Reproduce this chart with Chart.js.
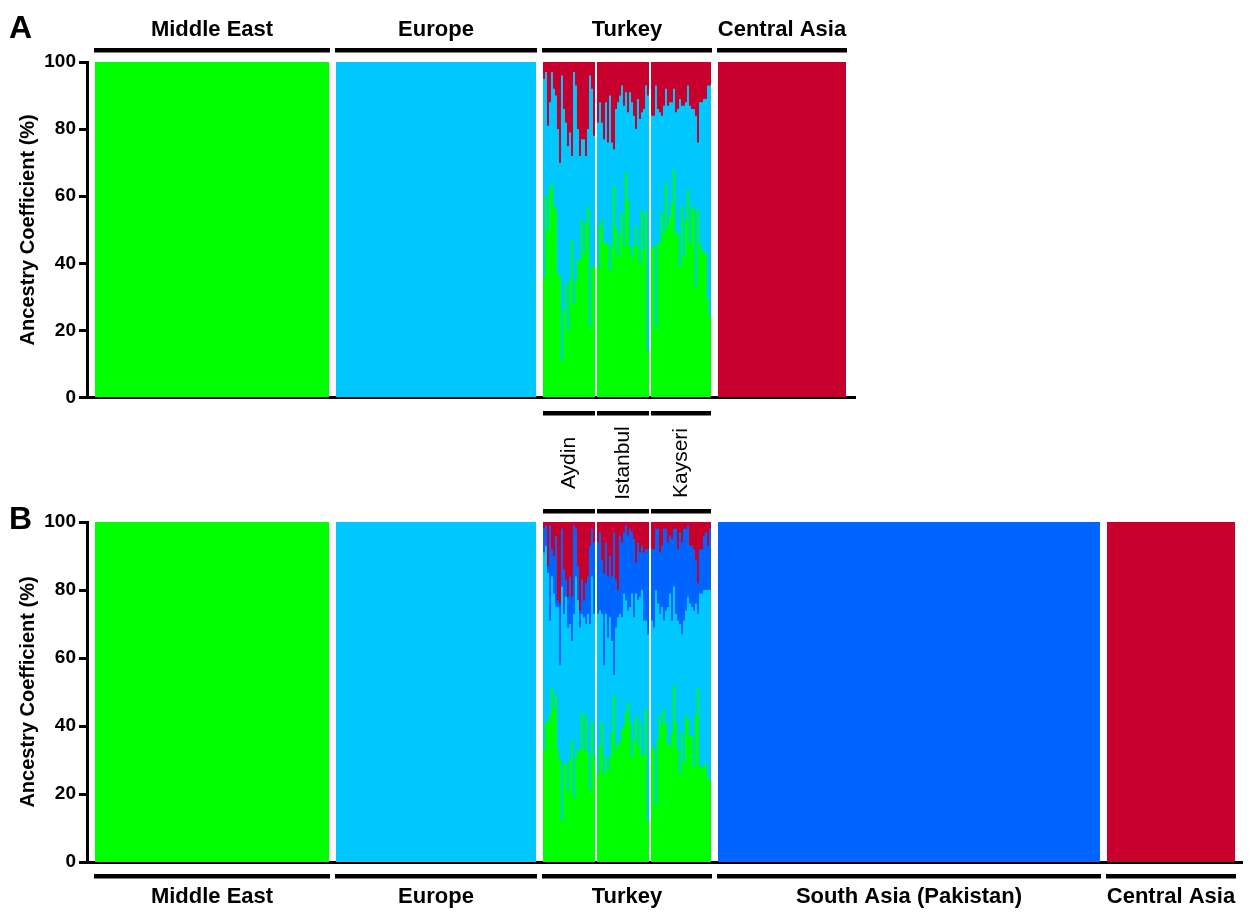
<!DOCTYPE html>
<html lang="en">
<head>
<meta charset="UTF-8">
<title>Ancestry Coefficient</title>
<script src="https://cdn.jsdelivr.net/npm/chart.js"></script>
<style>
  body { margin: 0; background: #fff; }
  #chartA { position: absolute; left: 0; top: 0; }
  #chartB { position: absolute; left: 0; top: 405px; }
</style>
</head>
<body>
<canvas id="chartA" width="870" height="412"></canvas>
<canvas id="chartB" width="1253" height="507"></canvas>
<script>
// ---- data ----
const groupsA = ['Middle East', 'Europe', 'Turkey', 'Central Asia'];
const groupsB = ['Middle East', 'Europe', 'Turkey', 'South Asia (Pakistan)', 'Central Asia'];
const turkeySubpops = ['Aydin', 'Istanbul', 'Kayseri'];
const yTicks = [0, 20, 40, 60, 80, 100];

// number of individuals per reference population (each 100% one cluster)
const nMiddleEast = 117;
const nEurope = 100;
const nSouthAsia = 191;
const nCentralAsia = 64;

// Panel A (3 clusters): upper edge of each cluster, cumulative %, per individual
const aydinA_green = [36, 60, 50, 62, 64, 57, 56, 37, 36, 11, 26, 34, 20, 35, 47, 28, 35, 41, 41, 53, 43, 52, 57, 21, 39, 39];
const aydinA_blue  = [95, 97, 81, 88, 97, 92, 90, 80, 70, 96, 86, 82, 75, 79, 72, 97, 93, 80, 72, 77, 77, 72, 80, 96, 92, 78];
const istanbulA_green = [39, 51, 53, 46, 46, 46, 38, 45, 63, 51, 42, 49, 55, 45, 67, 59, 45, 42, 45, 51, 45, 40, 56, 44, 55, 14];
const istanbulA_blue  = [82, 88, 82, 77, 88, 76, 90, 76, 74, 86, 88, 90, 93, 87, 91, 85, 91, 88, 84, 80, 89, 83, 85, 86, 93, 90];
const kayseriA_green = [45, 45, 21, 46, 46, 55, 49, 64, 51, 54, 58, 68, 49, 49, 39, 57, 42, 53, 62, 46, 57, 56, 33, 56, 46, 44, 43, 43, 29, 24];
const kayseriA_blue  = [84, 84, 93, 86, 85, 84, 87, 92, 87, 88, 88, 92, 85, 86, 89, 87, 87, 88, 93, 87, 86, 86, 84, 76, 88, 88, 89, 89, 93, 93];

// Panel B (4 clusters): green, + light blue, + dark blue (cumulative %), rest red
const aydinB_green = [33, 41, 41, 43, 51, 45, 49, 33, 30, 12, 29, 29, 21, 30, 36, 19, 31, 33, 33, 44, 33, 43, 32, 21, 41, 31];
const aydinB_light = [91, 93, 85, 71, 84, 79, 75, 75, 58, 81, 73, 78, 69, 70, 65, 73, 84, 77, 69, 73, 72, 70, 73, 70, 84, 73];
const aydinB_dark  = [98, 99, 87, 99, 92, 90, 96, 77, 76, 98, 86, 83, 78, 84, 78, 99, 98, 87, 74, 83, 77, 82, 84, 93, 98, 94];
const istanbulB_green = [26, 34, 41, 26, 31, 27, 31, 38, 49, 33, 35, 35, 39, 40, 44, 47, 41, 31, 36, 43, 34, 41, 31, 32, 45, 12];
const istanbulB_light = [73, 74, 73, 58, 73, 66, 72, 65, 55, 69, 72, 73, 72, 79, 77, 74, 75, 79, 72, 79, 77, 78, 80, 71, 71, 67];
const istanbulB_dark  = [94, 97, 89, 85, 94, 84, 90, 84, 97, 83, 80, 96, 94, 97, 99, 96, 98, 97, 95, 88, 94, 91, 93, 91, 92, 92];
const kayseriB_green = [34, 33, 17, 36, 43, 40, 45, 41, 35, 34, 38, 52, 41, 33, 26, 38, 29, 43, 42, 37, 37, 28, 43, 51, 28, 28, 28, 29, 25, 24];
const kayseriB_light = [71, 69, 80, 76, 73, 75, 71, 74, 75, 79, 71, 81, 73, 71, 70, 67, 71, 74, 78, 76, 75, 74, 76, 73, 79, 79, 80, 80, 80, 80];
const kayseriB_dark  = [92, 92, 98, 98, 91, 93, 98, 98, 94, 96, 95, 98, 98, 92, 97, 94, 98, 98, 99, 93, 93, 92, 89, 82, 92, 92, 96, 97, 93, 98];

// ---- style ----
const GREEN = '#00ff00', LIGHT = '#00c8ff', DARK = '#0064ff', RED = '#c8002e';
const FONT = "'Liberation Sans', Arial, sans-serif";
const LEAD = 4, GAP = 3.5, SUBGAP = 1;

// x layout in "individual" units
const xME = LEAD;
const xEU = xME + nMiddleEast + GAP;
const xAydin = xEU + nEurope + GAP;
const xIstanbul = xAydin + aydinA_green.length + SUBGAP;
const xKayseri = xIstanbul + istanbulA_green.length + SUBGAP;
const xTurkeyEnd = xKayseri + kayseriA_green.length;
const xAfterTurkey = xTurkeyEnd + GAP;
const xCA_B = xAfterTurkey + nSouthAsia + GAP;

function solid(start, n, color, order) {
  return { data: [{ x: start, y: 100 }, { x: start + n, y: 100 }], backgroundColor: color, order };
}
function steps(start, values, color, order) {
  const pts = values.map((v, i) => ({ x: start + i, y: v }));
  pts.push({ x: start + values.length, y: values[values.length - 1] });
  return { data: pts, backgroundColor: color, order };
}

const datasetsA = [
  solid(xME, nMiddleEast, GREEN, 0),
  solid(xEU, nEurope, LIGHT, 0),
  solid(xAfterTurkey, nCentralAsia, RED, 0),
  steps(xAydin, aydinA_green, GREEN, 0),
  steps(xAydin, aydinA_blue, LIGHT, 1),
  solid(xAydin, aydinA_green.length, RED, 3),
  steps(xIstanbul, istanbulA_green, GREEN, 0),
  steps(xIstanbul, istanbulA_blue, LIGHT, 1),
  solid(xIstanbul, istanbulA_green.length, RED, 3),
  steps(xKayseri, kayseriA_green, GREEN, 0),
  steps(xKayseri, kayseriA_blue, LIGHT, 1),
  solid(xKayseri, kayseriA_green.length, RED, 3)
];

const datasetsB = [
  solid(xME, nMiddleEast, GREEN, 0),
  solid(xEU, nEurope, LIGHT, 0),
  solid(xAfterTurkey, nSouthAsia, DARK, 0),
  solid(xCA_B, nCentralAsia, RED, 0),
  steps(xAydin, aydinB_green, GREEN, 0),
  steps(xAydin, aydinB_light, LIGHT, 1),
  steps(xAydin, aydinB_dark, DARK, 2),
  solid(xAydin, aydinB_green.length, RED, 3),
  steps(xIstanbul, istanbulB_green, GREEN, 0),
  steps(xIstanbul, istanbulB_light, LIGHT, 1),
  steps(xIstanbul, istanbulB_dark, DARK, 2),
  solid(xIstanbul, istanbulB_green.length, RED, 3),
  steps(xKayseri, kayseriB_green, GREEN, 0),
  steps(xKayseri, kayseriB_light, LIGHT, 1),
  steps(xKayseri, kayseriB_dark, DARK, 2),
  solid(xKayseri, kayseriB_green.length, RED, 3)
];

const spansA = [[xME, xME + nMiddleEast], [xEU, xEU + nEurope], [xAydin, xTurkeyEnd], [xAfterTurkey, xAfterTurkey + nCentralAsia]];
const spansB = [[xME, xME + nMiddleEast], [xEU, xEU + nEurope], [xAydin, xTurkeyEnd],
  [xAfterTurkey, xAfterTurkey + nSouthAsia], [xCA_B, xCA_B + nCentralAsia]];
const spansSub = [[xAydin, xIstanbul - SUBGAP], [xIstanbul, xKayseri - SUBGAP], [xKayseri, xTurkeyEnd]];

function makeOptions(xMax, padding) {
  return {
    responsive: false,
    animation: false,
    events: [],
    layout: { padding },
    plugins: { legend: { display: false }, tooltip: { enabled: false } },
    elements: {
      line: { borderWidth: 0, stepped: true, fill: 'origin', tension: 0 },
      point: { radius: 0 }
    },
    scales: {
      x: {
        type: 'linear', min: 0, max: xMax, z: 1,
        grid: { display: false },
        ticks: { display: false },
        border: { display: true, color: '#000', width: 3 },
        afterFit: s => { s.height = 0; }
      },
      y: {
        min: 0, max: 100, z: 1,
        afterFit: s => { s.width = 77; },
        afterBuildTicks: s => { s.ticks = yTicks.map(v => ({ value: v })); },
        ticks: { color: '#000', padding: 3, font: { family: FONT, size: 19, weight: 'bold' } },
        grid: { drawOnChartArea: false, drawTicks: true, tickLength: 8, tickWidth: 3, tickColor: '#000' },
        border: { display: true, color: '#000', width: 3 },
        title: {
          display: true, text: 'Ancestry Coefficient (%)', color: '#000',
          font: { family: FONT, size: 20, weight: 'bold' }, padding: { top: 6, bottom: 0 }
        }
      }
    }
  };
}

// horizontal black bracket bar over/under a span; ext widens it a bit
function drawBar(ctx, sx, s, e, y, ext) {
  const x1 = sx.getPixelForValue(s) - ext, x2 = sx.getPixelForValue(e) + ext;
  ctx.fillStyle = '#000';
  ctx.fillRect(x1, y - 2, x2 - x1, 4.5);
}

const labelsA = {
  id: 'labelsA',
  afterDraw(chart) {
    const { ctx, chartArea } = chart;
    const sx = chart.scales.x;
    ctx.save();
    ctx.textAlign = 'center';
    ctx.textBaseline = 'alphabetic';
    ctx.font = 'bold 22px ' + FONT;
    groupsA.forEach((name, i) => {
      const [s, e] = spansA[i];
      drawBar(ctx, sx, s, e, chartArea.top - 12, 1);
      ctx.fillStyle = '#000';
      ctx.fillText(name, (sx.getPixelForValue(s) + sx.getPixelForValue(e)) / 2, chartArea.top - 26);
    });
    ctx.textAlign = 'left';
    ctx.font = 'bold 32px ' + FONT;
    ctx.fillText('A', 9, 38);
    ctx.restore();
  }
};

const labelsB = {
  id: 'labelsB',
  afterDraw(chart) {
    const { ctx, chartArea } = chart;
    const sx = chart.scales.x;
    ctx.save();
    // Turkish sub-populations between the panels
    turkeySubpops.forEach((name, i) => {
      const [s, e] = spansSub[i];
      drawBar(ctx, sx, s, e, chartArea.top - 109, 0);
      drawBar(ctx, sx, s, e, chartArea.top - 11, 0);
      ctx.save();
      ctx.translate((sx.getPixelForValue(s) + sx.getPixelForValue(e)) / 2, chartArea.top - 59);
      ctx.rotate(-Math.PI / 2);
      ctx.textAlign = 'center';
      ctx.textBaseline = 'middle';
      ctx.font = '21px ' + FONT;
      ctx.fillStyle = '#000';
      ctx.fillText(name, 0, 0);
      ctx.restore();
    });
    ctx.textAlign = 'center';
    ctx.textBaseline = 'alphabetic';
    ctx.font = 'bold 22px ' + FONT;
    groupsB.forEach((name, i) => {
      const [s, e] = spansB[i];
      drawBar(ctx, sx, s, e, chartArea.bottom + 14, 1);
      ctx.fillStyle = '#000';
      ctx.fillText(name, (sx.getPixelForValue(s) + sx.getPixelForValue(e)) / 2, chartArea.bottom + 41);
    });
    ctx.textAlign = 'left';
    ctx.font = 'bold 32px ' + FONT;
    ctx.fillText('B', 9, 124);
    ctx.restore();
  }
};

new Chart(document.getElementById('chartA'), {
  type: 'line',
  data: { datasets: datasetsA },
  options: makeOptions(384, { left: 10, right: 15, top: 62, bottom: 12 }),
  plugins: [labelsA]
});

new Chart(document.getElementById('chartB'), {
  type: 'line',
  data: { datasets: datasetsB },
  options: makeOptions(577.5, { left: 10, right: 11, top: 117, bottom: 50 }),
  plugins: [labelsB]
});
</script>
</body>
</html>
